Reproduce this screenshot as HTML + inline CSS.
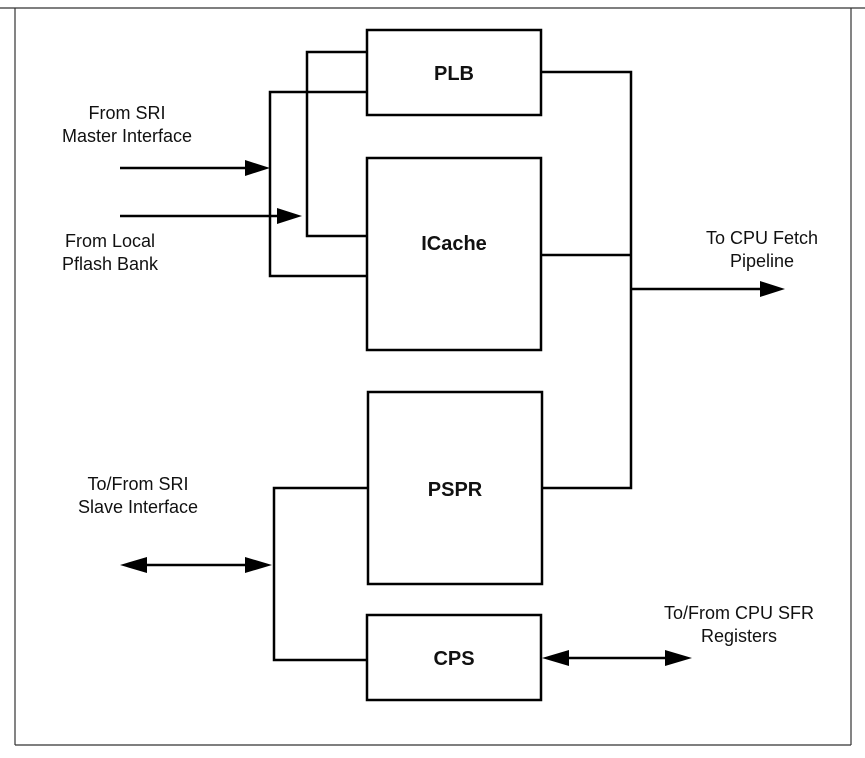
<!DOCTYPE html>
<html><head><meta charset="utf-8"><style>
html,body{margin:0;padding:0;background:#fff;}
svg{display:block;}
text{font-family:"Liberation Sans",Arial,sans-serif;font-size:18px;fill:#111;}
.b{font-weight:bold;font-size:20px;}
</style></head><body>
<svg width="865" height="758" viewBox="0 0 865 758" xmlns="http://www.w3.org/2000/svg">
<g stroke="#333" stroke-width="1.2" fill="none">
<line x1="0" y1="8" x2="865" y2="8"/>
<line x1="15" y1="8" x2="15" y2="745"/>
<line x1="851" y1="8" x2="851" y2="745"/>
<line x1="15" y1="745" x2="851" y2="745"/>
</g>
<g stroke="#000" stroke-width="2.5" fill="none">
<rect x="367" y="30" width="174" height="85"/>
<rect x="367" y="158" width="174" height="192"/>
<rect x="368" y="392" width="174" height="192"/>
<rect x="367" y="615" width="174" height="85"/>
<polyline points="367,92 270,92 270,276 367,276"/>
<polyline points="367,52 307,52 307,236 367,236"/>
<line x1="120" y1="168" x2="255" y2="168"/>
<line x1="120" y1="216" x2="287" y2="216"/>
<polyline points="541,72 631,72 631,488 542,488"/>
<line x1="541" y1="255" x2="631" y2="255"/>
<line x1="631" y1="289" x2="770" y2="289"/>
<polyline points="368,488 274,488 274,660 367,660"/>
<line x1="134" y1="565" x2="258" y2="565"/>
<line x1="556" y1="658" x2="678" y2="658"/>
</g>
<g fill="#000">
<polygon points="270,168 245,160 245,176"/>
<polygon points="302,216 277,208 277,224"/>
<polygon points="785,289 760,281 760,297"/>
<polygon points="120,565 147,557 147,573"/>
<polygon points="272,565 245,557 245,573"/>
<polygon points="542,658 569,650 569,666"/>
<polygon points="692,658 665,650 665,666"/>
</g>
<text class="b" x="454" y="80" text-anchor="middle">PLB</text>
<text class="b" x="454" y="250" text-anchor="middle">ICache</text>
<text class="b" x="455" y="496" text-anchor="middle">PSPR</text>
<text class="b" x="454" y="665" text-anchor="middle">CPS</text>
<text x="127" y="119" text-anchor="middle">From SRI</text>
<text x="127" y="142" text-anchor="middle">Master Interface</text>
<text x="110" y="247" text-anchor="middle">From Local</text>
<text x="110" y="270" text-anchor="middle">Pflash Bank</text>
<text x="138" y="490" text-anchor="middle">To/From SRI</text>
<text x="138" y="513" text-anchor="middle">Slave Interface</text>
<text x="762" y="244" text-anchor="middle">To CPU Fetch</text>
<text x="762" y="267" text-anchor="middle">Pipeline</text>
<text x="739" y="619" text-anchor="middle">To/From CPU SFR</text>
<text x="739" y="642" text-anchor="middle">Registers</text>
</svg>
</body></html>
